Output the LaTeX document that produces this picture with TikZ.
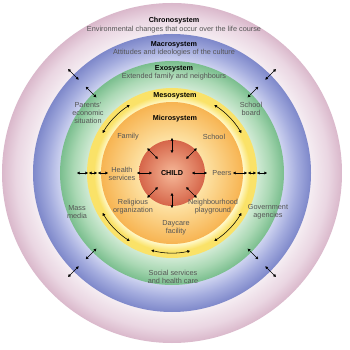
\documentclass[tikz,border=0pt]{standalone}
\usepackage{fontspec}
\setmainfont{Liberation Sans}
\usetikzlibrary{arrows.meta}
\definecolor{pinkin}{RGB}{245,237,242}
\definecolor{pinkmid}{RGB}{234,214,226}
\definecolor{pinkout}{RGB}{218,184,203}
\definecolor{bluein}{RGB}{206,211,240}
\definecolor{bluemid}{RGB}{164,172,222}
\definecolor{blueout}{RGB}{126,136,202}
\definecolor{greenin}{RGB}{208,234,212}
\definecolor{greenmid}{RGB}{170,216,180}
\definecolor{greenout}{RGB}{122,190,142}
\definecolor{yellowin}{RGB}{255,248,200}
\definecolor{yellowout}{RGB}{250,226,104}
\definecolor{orangein}{RGB}{253,226,164}
\definecolor{orangeout}{RGB}{247,180,82}
\definecolor{childin}{RGB}{246,184,152}
\definecolor{childout}{RGB}{214,102,74}
\definecolor{labgray}{RGB}{85,85,85}
\pgfdeclareradialshading{pinkring}{\pgfpointorigin}{color(0bp)=(pinkin); color(20.4bp)=(pinkin); color(23bp)=(pinkmid); color(25bp)=(pinkout); color(50bp)=(pinkout)}
\pgfdeclareradialshading{bluering}{\pgfpointorigin}{color(0bp)=(bluein); color(20.1bp)=(bluein); color(22.5bp)=(bluemid); color(25bp)=(blueout); color(50bp)=(blueout)}
\pgfdeclareradialshading{greenring}{\pgfpointorigin}{color(0bp)=(greenin); color(19bp)=(greenin); color(22bp)=(greenmid); color(25bp)=(greenout); color(50bp)=(greenout)}
\pgfdeclareradialshading{yellowring}{\pgfpointorigin}{color(0bp)=(yellowin); color(20.9bp)=(yellowin); color(23bp)=(yellowout); color(50bp)=(yellowout)}
\pgfdeclareradialshading{orangering}{\pgfpointorigin}{color(0bp)=(orangein); color(11.6bp)=(orangein); color(25bp)=(orangeout); color(50bp)=(orangeout)}
\pgfdeclareradialshading{childball}{\pgfpointorigin}{color(0bp)=(childin); color(25bp)=(childout); color(50bp)=(childout)}
\tikzset{
  lab/.style={font=\fontsize{7.3}{8.2}\selectfont, text=labgray, align=center, inner sep=0pt},
  ttl/.style={font=\fontsize{7.2}{8}\selectfont\bfseries, text=black, align=center, inner sep=0pt},
  arr/.style={line width=0.55pt, {Triangle[length=2.6pt,width=2.8pt]}-{Triangle[length=2.6pt,width=2.8pt]}}
}
\begin{document}
\begin{tikzpicture}[x=1pt,y=1pt]
\useasboundingbox (-172,-177) rectangle (178,173);
\fill[white] (-172,-177) rectangle (178,173);
% rings
\shade[shading=pinkring] (0,0) circle[radius=170];
\shade[shading=bluering] (0,0) circle[radius=139];
\shade[shading=greenring] (0,0) circle[radius=112];
\shade[shading=yellowring] (0,0) circle[radius=85];
\shade[shading=orangering] (0,0) circle[radius=71];
\shade[shading=childball] (0,0) circle[radius=33];
% titles
\node[ttl] (chrono) at (2,152) {Chronosystem};
\node[lab] (chronot) at (2,143) {Environmental changes that occur over the life course};
\node[ttl] (macro) at (2,128) {Macrosystem};
\node[lab] (macrot) at (2,120) {Attitudes and ideologies of the culture};
\node[ttl] (exo) at (2,104) {Exosystem};
\node[lab] (exot) at (2,96) {Extended family and neighbours};
\node[ttl] (meso) at (3,77) {Mesosystem};
\node[ttl] (micro) at (3,54) {Microsystem};
\node[ttl] (child) at (0,0) {CHILD};
% labels
\node[lab] (family) at (-44,36) {Family};
\node[lab] (school) at (42,36) {School};
\node[lab] (health) at (-50,-1) {Health\\services};
\node[lab] (peers) at (50,0) {Peers};
\node[lab] (relig) at (-39,-34) {Religious\\organization};
\node[lab] (neigh) at (41,-34) {Neighbourhood\\playground};
\node[lab] (daycare) at (4,-55) {Daycare\\facility};
\node[lab] (parents) at (-84,60) {Parents'\\economic\\situation};
\node[lab] (board) at (79,64) {School\\board};
\node[lab] (mass) at (-95,-39) {Mass\\media};
\node[lab] (gov) at (96,-39) {Government\\agencies};
\node[lab] (social) at (1,-104) {Social services\\and health care};
% arrows around child
\foreach \a in {0,45,...,315} \draw[arr] (\a:20) -- (\a:35);
% horizontal chains
\draw[arr] (-95,0) -- (-84,0);
\draw[arr] (-83,0) -- (-75,0);
\draw[arr] (-74,0) -- (-64,0);
\draw[arr] (61,0) -- (75,0);
\draw[arr] (76,0) -- (84,0);
\draw[arr] (85,0) -- (95,0);
% diagonal radial arrows
\foreach \a in {45,135,225,315} {
  \draw[arr] (\a:107) -- (\a:122);
  \draw[arr] (\a:132) -- (\a:147);
}
% curved arrows
\draw[arr] (122:80) arc[start angle=122, end angle=150, radius=80];
\draw[arr] (30:80) arc[start angle=30, end angle=58, radius=80];
\draw[arr] (210:80) arc[start angle=210, end angle=238, radius=80];
\draw[arr] (302:80) arc[start angle=302, end angle=330, radius=80];
\draw[arr] (255:80) arc[start angle=255, end angle=283, radius=80];
\end{tikzpicture}
\end{document}
